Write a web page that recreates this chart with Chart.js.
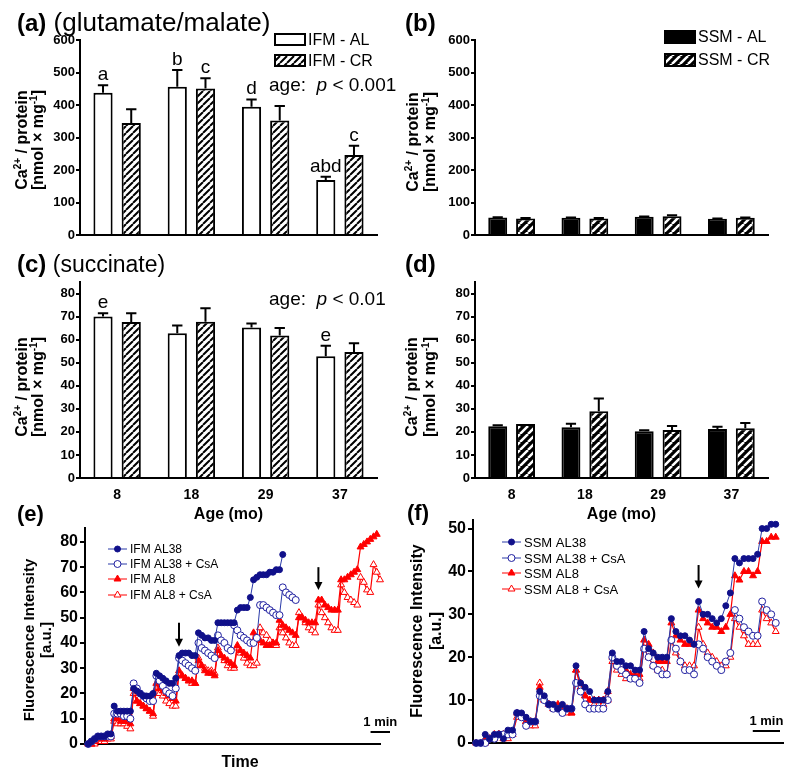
<!DOCTYPE html>
<html>
<head>
<meta charset="utf-8">
<script src="https://cdn.jsdelivr.net/npm/chart.js@4.4.1/dist/chart.umd.min.js"></script>
<style>
  html, body { margin: 0; padding: 0; background: #fff; }
  #fig { position: relative; width: 800px; height: 777px; overflow: hidden; }
  canvas { position: absolute; }
</style>
</head>
<body>
<div id="fig">
  <canvas id="pa" width="400" height="250" style="left:0;top:0;width:400px;height:250px"></canvas>
  <canvas id="pb" width="400" height="250" style="left:400px;top:0;width:400px;height:250px"></canvas>
  <canvas id="pc" width="400" height="275" style="left:0;top:250px;width:400px;height:275px"></canvas>
  <canvas id="pd" width="400" height="275" style="left:400px;top:250px;width:400px;height:275px"></canvas>
  <canvas id="pe" width="400" height="277" style="left:0;top:500px;width:400px;height:277px"></canvas>
  <canvas id="pf" width="400" height="277" style="left:400px;top:500px;width:400px;height:277px"></canvas>
</div>
<script>
const FONT = '"Liberation Sans", Arial, Helvetica, sans-serif';
Chart.defaults.font.family = FONT;
Chart.defaults.color = '#000';

// ---- bar panels (a-d) ----
const ages = ['8', '18', '29', '37'];
const glutTicks = [0, 100, 200, 300, 400, 500, 600];
const succTicks = [0, 10, 20, 30, 40, 50, 60, 70, 80];

const glutIfmAL = [438, 456, 395, 169];
const glutIfmALErr = [23, 52, 22, 10];
const glutIfmCR = [345, 451, 352, 246];
const glutIfmCRErr = [42, 31, 45, 29];
const glutLettersAL = ['a', 'b', 'd', 'abd'];
const glutLettersCR = ['', 'c', '', 'c'];

const glutSsmAL = [54, 53, 56, 50];
const glutSsmALErr = [1, 1, 1, 1];
const glutSsmCR = [51, 51, 58, 53];
const glutSsmCRErr = [1, 1, 3, 1];

const succIfmAL = [70, 62.8, 65.3, 52.8];
const succIfmALErr = [1.5, 3.3, 1.7, 4.5];
const succIfmCR = [67.6, 67.8, 61.8, 54.6];
const succIfmCRErr = [3.8, 5.8, 3.3, 3.8];
const succLettersAL = ['e', '', '', 'e'];

const succSsmAL = [22.4, 22, 20.3, 21.2];
const succSsmALErr = [0.5, 1.5, 0.4, 1];
const succSsmCR = [23.4, 29, 20.8, 21.6];
const succSsmCRErr = [0, 5.5, 1.7, 2.2];

// ---- fluorescence traces (e, f), one value per 10 s sample ----
const ifmTicks = [0, 10, 20, 30, 40, 50, 60, 70, 80];
const ssmTicks = [0, 10, 20, 30, 40, 50];

const ifmAL38 = [0,1,2,3,3,3,4,4, 15,13,13,13,13,13, 22,21,20,19,19,19,20, 28,27,26,25,24,24,26,
  35,36,36,36,35,35, 44,43,42,42,41,41, 48,48,48,48,48,48, 53,54,54,54,58,
  65,66,67,67,67,68,68,69,69,75];
const ifmAL38CsA = [0,1,2,3,3,3,3,3, 12,12,12,11,11,10, 24,22,20,19,18,17,17, 27,25,23,21,20,19,22,
  34,33,32,31,30,29, 40,38,37,36,35,34, 43,41,40,38,37, 47,45,43,42,41,40,40,42,
  55,55,54,53,52,51,51, 62,60,59,58,57];
const ifmAL8 = [0,0,1,2,2,2,3,3, 10,10,9,9,9,8, 22,17,16,15,14,13,12, 24,22,21,20,19,18,17,
  29,27,26,25,25,24, 33,31,29,28,28,27, 37,35,34,33,32,31, 39,37,36,35,34,
  44,42,41,40,39,39,40,40, 49,47,46,45,44,43, 50,50,49,48,48,48, 57,57,55,54,53,53,53,
  65,65,66,67,68,69, 78,79,80,81,82,83];
const ifmAL8CsA = [0,0,0,1,1,1,2,2, 9,8,8,8,7,6, 20,17,16,15,14,13,11, 22,20,19,17,16,15,15,
  28,27,26,25,24,24, 34,31,30,29,29,28, 38,35,33,31,30,30, 38,36,34,32,31,31,32,
  46,44,43,41,40,39, 46,44,42,40,39,39, 52,50,48,46,45,44, 55,52,50,48,46,45,45,
  63,60,58,57,56,55, 66,64,61,60, 71,68,65];

const ssmAL38 = [0,0,2,1,2,2,1,3,3, 7,7,6,5,5, 12,11,9,9,8,9,8,8, 18,14,13,12,10,10,10,12,
  21,19,19,18,18,17,17, 26,22,21,20,20,20, 29,26,25,25,24,23, 33,30,30,29,28,29,32,35,
  43,42,43,43,43,44, 50,50,51,51];
const ssmAL38CsA = [0,0,0,1,1,2,2,2,2, 7,6,4,5,5, 11,10,9,8,8,7,8,8, 14,12,9,8,8,8,8,10,
  20,18,17,16,15,15,14, 22,20,18,17,16,16, 24,22,19,17,17,16, 23,22,20,19,18,17,19,21,
  31,29,27,26,25,25, 33,31,30,28];
const ssmAL8 = [0,0,1,1,1,2,2,2,2, 7,6,5,5,5, 13,10,9,8,9,8,8,7, 17,14,11,10,10,10,10,12,
  20,18,17,17,16,16,16, 24,23,21,19,19,19, 28,25,24,23,23,23, 31,29,28,27,27,26,27,30,
  39,38,40,40,39,40, 47,47,48,48];
const ssmAL8CsA = [0,0,0,1,2,2,1,1,2, 6,6,5,4,4, 14,10,9,8,8,8,7,7, 17,13,11,10,9,9,9,10,
  19,17,16,15,15,15,15, 22,20,18,17,17,16, 24,21,19,18,18,18, 27,23,21,20,19,18,18,20,
  29,27,25,23,23,23, 31,29,28,26];

// arrows: [sample, top value, tip value]
const ifmArrows = [[28, 48, 38.5], [71, 70, 61]];
const ssmArrows = [[49, 41.5, 36]];

// ---- helpers ----
function hatch(bg, fg, size, lw) {
  const c = document.createElement('canvas');
  c.width = size; c.height = size;
  const g = c.getContext('2d');
  g.fillStyle = bg; g.fillRect(0, 0, size, size);
  g.strokeStyle = fg; g.lineWidth = lw;
  g.beginPath();
  for (const k of [-size, 0, size]) { g.moveTo(k, size); g.lineTo(k + size, 0); }
  g.stroke();
  return g.createPattern(c, 'repeat');
}
const whiteHatch = hatch('#fff', '#000', 7, 2);
const blackHatch = hatch('#000', '#fff', 8, 2.5);

function partFont(p, size, bold) {
  const s = p.sup ? Math.round(size * 0.65) : (p.size || size);
  return (p.it ? 'italic ' : '') + ((bold || p.b) ? 'bold ' : '') + s + 'px ' + FONT;
}
function drawRich(ctx, x, y, parts, size, bold, align) {
  ctx.save();
  ctx.textBaseline = 'alphabetic'; ctx.textAlign = 'left'; ctx.fillStyle = '#000';
  let total = 0;
  const ws = parts.map(p => { ctx.font = partFont(p, size, bold); const w = ctx.measureText(p.t).width; total += w; return w; });
  let cx = align === 'center' ? x - total / 2 : x;
  parts.forEach((p, i) => {
    ctx.font = partFont(p, size, bold);
    ctx.fillText(p.t, cx, p.sup ? y - size * 0.4 : y);
    cx += ws[i];
  });
  ctx.restore();
}
function drawYTitle(ctx, lines, cy, size) {
  lines.forEach(l => {
    ctx.save();
    ctx.translate(l.x, cy);
    ctx.rotate(-Math.PI / 2);
    drawRich(ctx, 0, 0, l.parts, size, true, 'center');
    ctx.restore();
  });
}
const caTitle = [
  [{ t: 'Ca' }, { t: '2+', sup: true }, { t: ' / protein' }],
  [{ t: '[nmol \u00d7 mg' }, { t: '-1', sup: true }, { t: ']' }]
];
const fluoTitle = [[{ t: 'Fluorescence Intensity' }], [{ t: '[a.u.]' }]];

function legendBox(ctx, x, y, w, h, fill, label) {
  ctx.save();
  ctx.fillStyle = fill; ctx.fillRect(x, y, w, h);
  ctx.strokeStyle = '#000'; ctx.lineWidth = 2; ctx.strokeRect(x, y, w, h);
  ctx.fillStyle = '#000'; ctx.font = '16px ' + FONT;
  ctx.textBaseline = 'middle'; ctx.textAlign = 'left';
  ctx.fillText(label, x + w + 3, y + h / 2 + 1);
  ctx.restore();
}

function barChart(id, cfg) {
  return new Chart(document.getElementById(id), {
    type: 'bar',
    data: {
      labels: ages,
      datasets: [
        { data: cfg.al, err: cfg.alErr, letters: cfg.alLetters, backgroundColor: cfg.alFill, borderColor: '#000', borderWidth: 2 },
        { data: cfg.cr, err: cfg.crErr, letters: cfg.crLetters, backgroundColor: cfg.crFill, borderColor: '#000', borderWidth: 2 }
      ]
    },
    options: {
      responsive: false, animation: false,
      layout: { autoPadding: false, padding: { left: 0, top: cfg.top, right: cfg.right, bottom: 0 } },
      datasets: { bar: { categoryPercentage: 0.76, barPercentage: 0.68 } },
      plugins: { legend: { display: false }, tooltip: { enabled: false } },
      scales: {
        x: {
          grid: { display: false, drawTicks: false },
          border: { color: '#000', width: 2 },
          ticks: { display: cfg.showAges, font: { size: 14, weight: 'bold' }, padding: 9, color: '#000' },
          afterFit: s => { s.height = cfg.xh; }
        },
        y: {
          min: 0, max: cfg.max,
          ticks: { font: { size: 13, weight: 'bold' }, padding: 1, color: '#000' },
          grid: { drawOnChartArea: false, color: '#000', lineWidth: 2, tickLength: 4 },
          border: { color: '#000', width: 2 },
          afterFit: s => { s.width = cfg.left; },
          afterBuildTicks: a => { a.ticks = cfg.ticks.map(v => ({ value: v })); }
        }
      }
    },
    plugins: [{
      id: 'barExtras',
      afterDatasetsDraw(chart) {
        const ctx = chart.ctx, ys = chart.scales.y;
        chart.data.datasets.forEach((ds, di) => {
          chart.getDatasetMeta(di).data.forEach((bar, i) => {
            const top = ys.getPixelForValue(ds.data[i] + ds.err[i]);
            ctx.save();
            ctx.strokeStyle = '#000'; ctx.lineWidth = 2;
            if (ds.err[i] > 0) {
              ctx.beginPath();
              ctx.moveTo(bar.x, bar.y); ctx.lineTo(bar.x, top);
              ctx.moveTo(bar.x - bar.width * 0.27, top); ctx.lineTo(bar.x + bar.width * 0.27, top);
              ctx.stroke();
            }
            if (ds.letters && ds.letters[i]) {
              ctx.fillStyle = '#000'; ctx.font = '19px ' + FONT;
              ctx.textAlign = 'center'; ctx.textBaseline = 'alphabetic';
              ctx.fillText(ds.letters[i], bar.x, top - 5);
            }
            ctx.restore();
          });
        });
      },
      afterDraw(chart) { cfg.draw(chart.ctx, chart); }
    }]
  });
}

function marker(ctx, x, y, s) {
  ctx.beginPath();
  if (s.shape === 'circle') {
    ctx.arc(x, y, s.r, 0, Math.PI * 2);
  } else {
    const r = s.r;
    ctx.moveTo(x, y - r); ctx.lineTo(x + r * 0.866, y + r * 0.5); ctx.lineTo(x - r * 0.866, y + r * 0.5);
    ctx.closePath();
  }
  ctx.fillStyle = s.fill; ctx.fill();
  ctx.strokeStyle = s.edge; ctx.lineWidth = 1; ctx.stroke();
}
function drawLegend(ctx, x0, ys, series, size) {
  ctx.save();
  series.forEach((s, k) => {
    const y = ys[k];
    ctx.strokeStyle = s.line; ctx.lineWidth = 1;
    ctx.beginPath(); ctx.moveTo(x0, y); ctx.lineTo(x0 + 19, y); ctx.stroke();
    marker(ctx, x0 + 9.5, y, s);
    ctx.fillStyle = '#000'; ctx.font = size + 'px ' + FONT;
    ctx.textAlign = 'left'; ctx.textBaseline = 'middle';
    ctx.fillText(s.label, x0 + 22, y + 1);
  });
  ctx.restore();
}
function drawArrows(ctx, chart, arrows) {
  const xs = chart.scales.x, ys = chart.scales.y;
  ctx.save();
  ctx.strokeStyle = '#000'; ctx.fillStyle = '#000'; ctx.lineWidth = 2;
  arrows.forEach(([ax, top, tip]) => {
    const x = xs.getPixelForValue(ax), y1 = ys.getPixelForValue(top), y2 = ys.getPixelForValue(tip);
    ctx.beginPath(); ctx.moveTo(x, y1); ctx.lineTo(x, y2 - 6); ctx.stroke();
    ctx.beginPath(); ctx.moveTo(x - 4, y2 - 8); ctx.lineTo(x + 4, y2 - 8); ctx.lineTo(x, y2); ctx.closePath(); ctx.fill();
  });
  ctx.restore();
}
function drawMinuteBar(ctx, chart, xRight, y) {
  const xs = chart.scales.x;
  const len = xs.getPixelForValue(6) - xs.getPixelForValue(0);
  ctx.save();
  ctx.strokeStyle = '#000'; ctx.lineWidth = 2;
  ctx.beginPath(); ctx.moveTo(xRight - len, y); ctx.lineTo(xRight, y); ctx.stroke();
  ctx.fillStyle = '#000'; ctx.font = 'bold 13px ' + FONT;
  ctx.textAlign = 'center'; ctx.textBaseline = 'alphabetic';
  ctx.fillText('1 min', xRight - len / 2, y - 6);
  ctx.restore();
}

function lineChart(id, cfg) {
  return new Chart(document.getElementById(id), {
    type: 'line',
    data: {
      datasets: cfg.series.map(s => ({
        label: s.label,
        data: s.values.map((v, i) => ({ x: i, y: v })),
        borderColor: s.line, borderWidth: s.lw,
        pointStyle: s.shape, pointRadius: s.r,
        pointBackgroundColor: s.fill, pointBorderColor: s.edge, pointBorderWidth: 1,
        tension: 0, clip: 10
      }))
    },
    options: {
      responsive: false, animation: false,
      layout: { autoPadding: false, padding: { left: 0, top: cfg.top, right: cfg.right, bottom: 0 } },
      plugins: { legend: { display: false }, tooltip: { enabled: false } },
      scales: {
        x: {
          type: 'linear', min: cfg.xMin, max: cfg.xMax,
          ticks: { display: false },
          grid: { display: false, drawTicks: false },
          border: { color: '#000', width: 2 },
          afterFit: s => { s.height = cfg.xh; }
        },
        y: {
          min: 0, max: cfg.yMax,
          ticks: { font: { size: 16, weight: 'bold' }, padding: 2, color: '#000' },
          grid: { drawOnChartArea: false, color: '#000', lineWidth: 2, tickLength: 5 },
          border: { color: '#000', width: 2 },
          afterFit: s => { s.width = cfg.left; },
          afterBuildTicks: a => { a.ticks = cfg.ticks.map(v => ({ value: v })); }
        }
      }
    },
    plugins: [{ id: 'lineExtras', afterDraw(chart) { cfg.draw(chart.ctx, chart); } }]
  });
}

function panelLabel(ctx, x, y, letter, sub, size, subSize) {
  const parts = [{ t: '(' + letter + ')', b: true }];
  if (sub) parts.push({ t: ' ' + sub, size: subSize });
  drawRich(ctx, x, y, parts, size, false, 'left');
}
function ageTitle(ctx, chart, y) {
  const a = chart.chartArea;
  drawRich(ctx, (a.left + a.right) / 2, y, [{ t: 'Age (mo)' }], 16, true, 'center');
}
const pAge = p => [{ t: 'age:  ' }, { t: 'p', it: true }, { t: ' < ' + p }];

// (a)
barChart('pa', {
  al: glutIfmAL, alErr: glutIfmALErr, alLetters: glutLettersAL, alFill: '#fff',
  cr: glutIfmCR, crErr: glutIfmCRErr, crLetters: glutLettersCR, crFill: whiteHatch,
  max: 600, ticks: glutTicks, left: 80, right: 23, top: 40, xh: 15, showAges: false,
  draw(ctx) {
    panelLabel(ctx, 17, 31, 'a', '(glutamate/malate)', 24, 26);
    drawYTitle(ctx, [{ x: 27, parts: caTitle[0] }, { x: 43, parts: caTitle[1] }], 140, 16);
    legendBox(ctx, 275, 34, 30, 11, '#fff', 'IFM - AL');
    legendBox(ctx, 275, 55, 30, 11, whiteHatch, 'IFM - CR');
    drawRich(ctx, 269, 91, pAge('0.001'), 19, false, 'left');
  }
});
// (b)
barChart('pb', {
  al: glutSsmAL, alErr: glutSsmALErr, alFill: '#000',
  cr: glutSsmCR, crErr: glutSsmCRErr, crFill: blackHatch,
  max: 600, ticks: glutTicks, left: 75, right: 32, top: 40, xh: 15, showAges: false,
  draw(ctx) {
    panelLabel(ctx, 5, 31, 'b', '', 24);
    drawYTitle(ctx, [{ x: 18, parts: caTitle[0] }, { x: 35, parts: caTitle[1] }], 142, 16);
    legendBox(ctx, 265, 31, 30, 12, '#000', 'SSM - AL');
    legendBox(ctx, 265, 54, 30, 12, blackHatch, 'SSM - CR');
  }
});
// (c)
barChart('pc', {
  al: succIfmAL, alErr: succIfmALErr, alLetters: succLettersAL, alFill: '#fff',
  cr: succIfmCR, crErr: succIfmCRErr, crFill: whiteHatch,
  max: 85, ticks: succTicks, left: 80, right: 23, top: 32, xh: 47, showAges: true,
  draw(ctx, chart) {
    panelLabel(ctx, 17, 22, 'c', '(succinate)', 24, 23);
    drawYTitle(ctx, [{ x: 27, parts: caTitle[0] }, { x: 43, parts: caTitle[1] }], 137, 16);
    drawRich(ctx, 269, 55, pAge('0.01'), 19, false, 'left');
    ageTitle(ctx, chart, 269);
  }
});
// (d)
barChart('pd', {
  al: succSsmAL, alErr: succSsmALErr, alFill: '#000',
  cr: succSsmCR, crErr: succSsmCRErr, crFill: blackHatch,
  max: 85, ticks: succTicks, left: 75, right: 32, top: 32, xh: 47, showAges: true,
  draw(ctx, chart) {
    panelLabel(ctx, 5, 22, 'd', '', 24);
    drawYTitle(ctx, [{ x: 17, parts: caTitle[0] }, { x: 35, parts: caTitle[1] }], 137, 16);
    ageTitle(ctx, chart, 269);
  }
});

const BLUE = '#10108a', BLUE_LINE = '#2a3aa8', RED = '#ff0000';
function traceStyles(prefix, v38, v38c, v8, v8c) {
  return [
    { label: prefix + ' AL38', values: v38, shape: 'circle', r: 3, fill: BLUE, edge: BLUE, line: BLUE_LINE, lw: 1 },
    { label: prefix + ' AL38 + CsA', values: v38c, shape: 'circle', r: 3.5, fill: '#fff', edge: '#2020a0', line: BLUE_LINE, lw: 1 },
    { label: prefix + ' AL8', values: v8, shape: 'triangle', r: 4, fill: RED, edge: RED, line: RED, lw: 1.2 },
    { label: prefix + ' AL8 + CsA', values: v8c, shape: 'triangle', r: 4, fill: '#fff', edge: RED, line: RED, lw: 1.2 }
  ];
}

// (e)
const ifmSeries = traceStyles('IFM', ifmAL38, ifmAL38CsA, ifmAL8, ifmAL8CsA);
lineChart('pe', {
  series: ifmSeries, ticks: ifmTicks,
  xMin: -1, xMax: 90, yMax: 85.5, left: 85, right: 20, top: 28, xh: 33,
  draw(ctx, chart) {
    panelLabel(ctx, 17, 21, 'e', '', 22);
    drawYTitle(ctx, [{ x: 34, parts: fluoTitle[0] }, { x: 51, parts: fluoTitle[1] }], 140, 15);
    drawLegend(ctx, 108, [49, 64, 79, 95], ifmSeries, 12);
    drawArrows(ctx, chart, ifmArrows);
    drawMinuteBar(ctx, chart, 390, 232);
    drawRich(ctx, 240, 267, [{ t: 'Time' }], 16, true, 'center');
  }
});
// (f)
const ssmSeries = traceStyles('SSM', ssmAL38, ssmAL38CsA, ssmAL8, ssmAL8CsA);
lineChart('pf', {
  series: ssmSeries, ticks: ssmTicks,
  xMin: -0.7, xMax: 67.6, yMax: 52, left: 73, right: 17, top: 20, xh: 34,
  draw(ctx, chart) {
    panelLabel(ctx, 7, 20, 'f', '', 22);
    drawYTitle(ctx, [{ x: 22, parts: fluoTitle[0] }, { x: 41, parts: fluoTitle[1] }], 131, 16);
    drawLegend(ctx, 102, [42, 58, 73, 89], ssmSeries, 13);
    drawArrows(ctx, chart, ssmArrows);
    drawMinuteBar(ctx, chart, 380, 231);
  }
});
</script>
</body>
</html>
